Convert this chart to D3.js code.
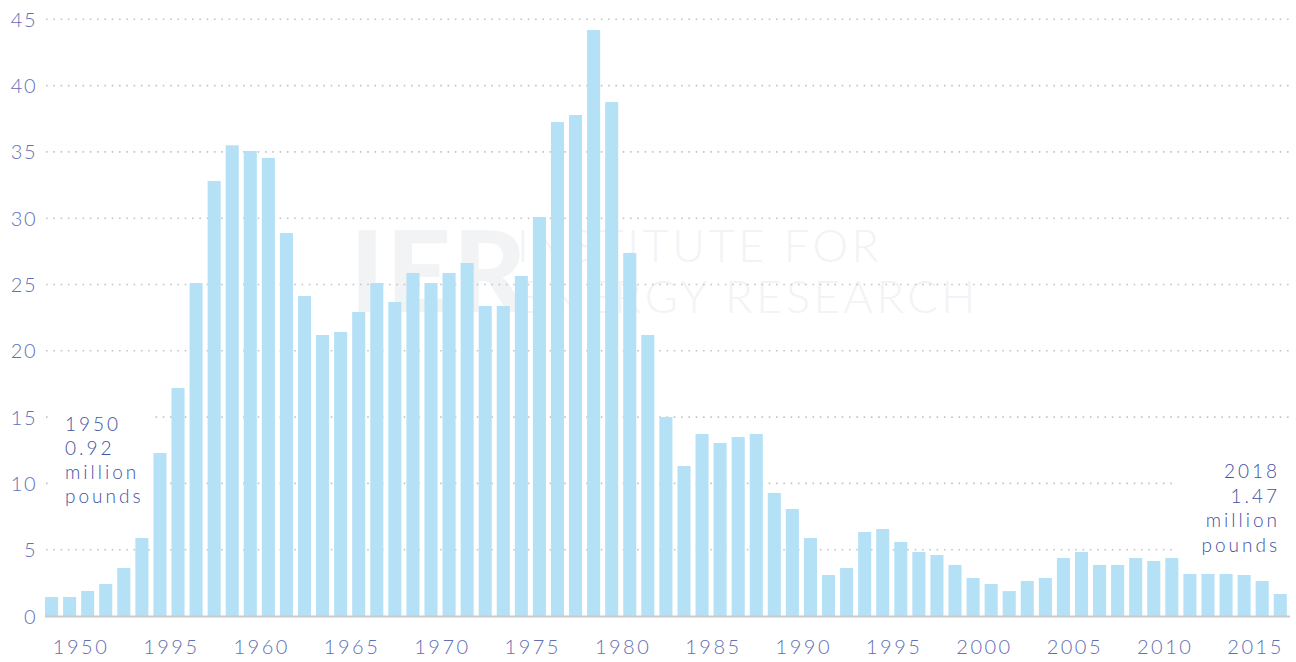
<!DOCTYPE html>
<html>
<head>
<meta charset="utf-8">
<script src="https://cdn.jsdelivr.net/npm/d3@7"></script>
<style>
  body{margin:0;background:#fff;}
  text{font-family:Lato,"Open Sans",sans-serif;}
</style>
</head>
<body>
<div id="chartContainer"></div>
<script>
// years 1950..2018, one bar each
var years = d3.range(1950, 2019);
var values = [1.43,1.43,1.89,2.41,3.62,5.88,12.29,17.19,25.11,32.8,
              35.5,35.07,34.54,28.88,24.13,21.19,21.42,22.93,25.11,23.68,
              25.87,25.11,25.87,26.62,23.38,23.38,25.64,30.09,37.25,37.78,
              44.19,38.76,27.38,21.19,15.0,11.31,13.73,13.05,13.5,13.73,
              9.28,8.07,5.88,3.09,3.62,6.33,6.56,5.58,4.83,4.6,
              3.85,2.87,2.41,1.88,2.64,2.87,4.37,4.83,3.85,3.85,
              4.37,4.15,4.37,3.17,3.17,3.17,3.09,2.64,1.66];
var yTicks = [0,5,10,15,20,25,30,35,40,45];
// label text as printed on the original (second one reads 1995)
var xTickYears  = [1950,1955,1960,1965,1970,1975,1980,1985,1990,1995,2000,2005,2010,2015];
var xTickLabels = ["1950","1995","1960","1965","1970","1975","1980","1985","1990","1995","2000","2005","2010","2015"];
var noteLeft  = ["1950","0.92","million","pounds"];
var noteRight = ["2018","1.47","million","pounds"];

function init(){
    var W = 1296, H = 662;
    var svg = d3.select("#chartContainer").append("svg").attr("id","chart")
                    .attr("width",W).attr("height",H);

    var x = d3.scaleBand().domain(years).range([45,1286.8]).paddingInner(0.277).paddingOuter(0);
    var y = d3.scaleLinear().domain([0,45]).range([616,19.3]);

    //---------------------------------------------------------------//
    //                          WATERMARK                            //
    //---------------------------------------------------------------//
    var wm = svg.append("g").style("fill","#f2f3f5");
    wm.append("text").attr("x",350).attr("y",312).text("IER")
        .style("font-size","113px").style("font-weight",900).style("letter-spacing","2px");
    wm.append("text").attr("x",517).attr("y",262).text("INSTITUTE FOR")
        .style("font-size","45px").style("font-weight",300).style("letter-spacing","3.6px");
    wm.append("text").attr("x",517).attr("y",313).text("ENERGY RESEARCH")
        .style("font-size","45px").style("font-weight",300).style("letter-spacing","3.6px");

    //---------------------------------------------------------------//
    //                          GRIDLINES                            //
    //---------------------------------------------------------------//
    svg.append("g").selectAll("line").data(yTicks.filter(function(d){return d>0;})).join("line")
        .attr("x1",46).attr("x2",1290)
        .attr("y1",function(d){return y(d);}).attr("y2",function(d){return y(d);})
        .style("stroke","#c4c4c4").style("stroke-width",1.6)
        .style("stroke-dasharray","1.6,5.7");

    // white boxes behind the two notes
    svg.append("rect").attr("x",52).attr("y",405).attr("width",100).attr("height",106).style("fill","#fff");
    svg.append("rect").attr("x",1172).attr("y",455).attr("width",124).attr("height",104).style("fill","#fff");

    //---------------------------------------------------------------//
    //                             BARS                              //
    //---------------------------------------------------------------//
    svg.append("g").selectAll("rect").data(values).join("rect")
        .attr("x",function(d,i){return x(years[i]);})
        .attr("y",function(d){return y(d);})
        .attr("width",x.bandwidth())
        .attr("height",function(d){return y(0)-y(d);})
        .style("fill","#b4e1f6");

    // baseline
    svg.append("line").attr("x1",45).attr("x2",1290).attr("y1",y(0)+0.5).attr("y2",y(0)+0.5)
        .style("stroke","#c9c9cd").style("stroke-width",2);

    //---------------------------------------------------------------//
    //                            AXES                               //
    //---------------------------------------------------------------//
    var yAxis = d3.axisLeft(y).tickValues(yTicks).tickSize(0).tickPadding(0);
    var gy = svg.append("g").attr("transform","translate(37,0)").call(yAxis);
    gy.select(".domain").remove();
    gy.selectAll("text").style("font-family","Lato").style("font-weight",300)
        .style("font-size","20px").style("fill","#5f70b6").style("letter-spacing","1.5px")
        .attr("dy","0.35em");

    // the printed year labels sit ~1.6 bars right of their bar
    var labelShift = x.bandwidth()/2 + 29.5;
    svg.append("g").selectAll("text").data(xTickYears).join("text")
        .attr("x",function(d){return x(d)+labelShift;})
        .attr("y",647)
        .attr("dy","0.35em")
        .attr("text-anchor","middle")
        .text(function(d,i){return xTickLabels[i];})
        .style("font-weight",300).style("font-size","20px")
        .style("fill","#5f70b6").style("letter-spacing","2.5px");

    //---------------------------------------------------------------//
    //                            NOTES                              //
    //---------------------------------------------------------------//
    svg.append("g").selectAll("text").data(noteLeft).join("text")
        .attr("x",65).attr("y",function(d,i){return 431+i*24;})
        .text(function(d){return d;})
        .style("font-weight",300).style("font-size","19px")
        .style("fill","#42529f").style("letter-spacing","3px");

    svg.append("g").selectAll("text").data(noteRight).join("text")
        .attr("x",1280).attr("y",function(d,i){return 478+i*24.5;})
        .attr("text-anchor","end")
        .text(function(d){return d;})
        .style("font-weight",300).style("font-size","19px")
        .style("fill","#42529f").style("letter-spacing","3px");
}
init();
</script>
</body>
</html>
